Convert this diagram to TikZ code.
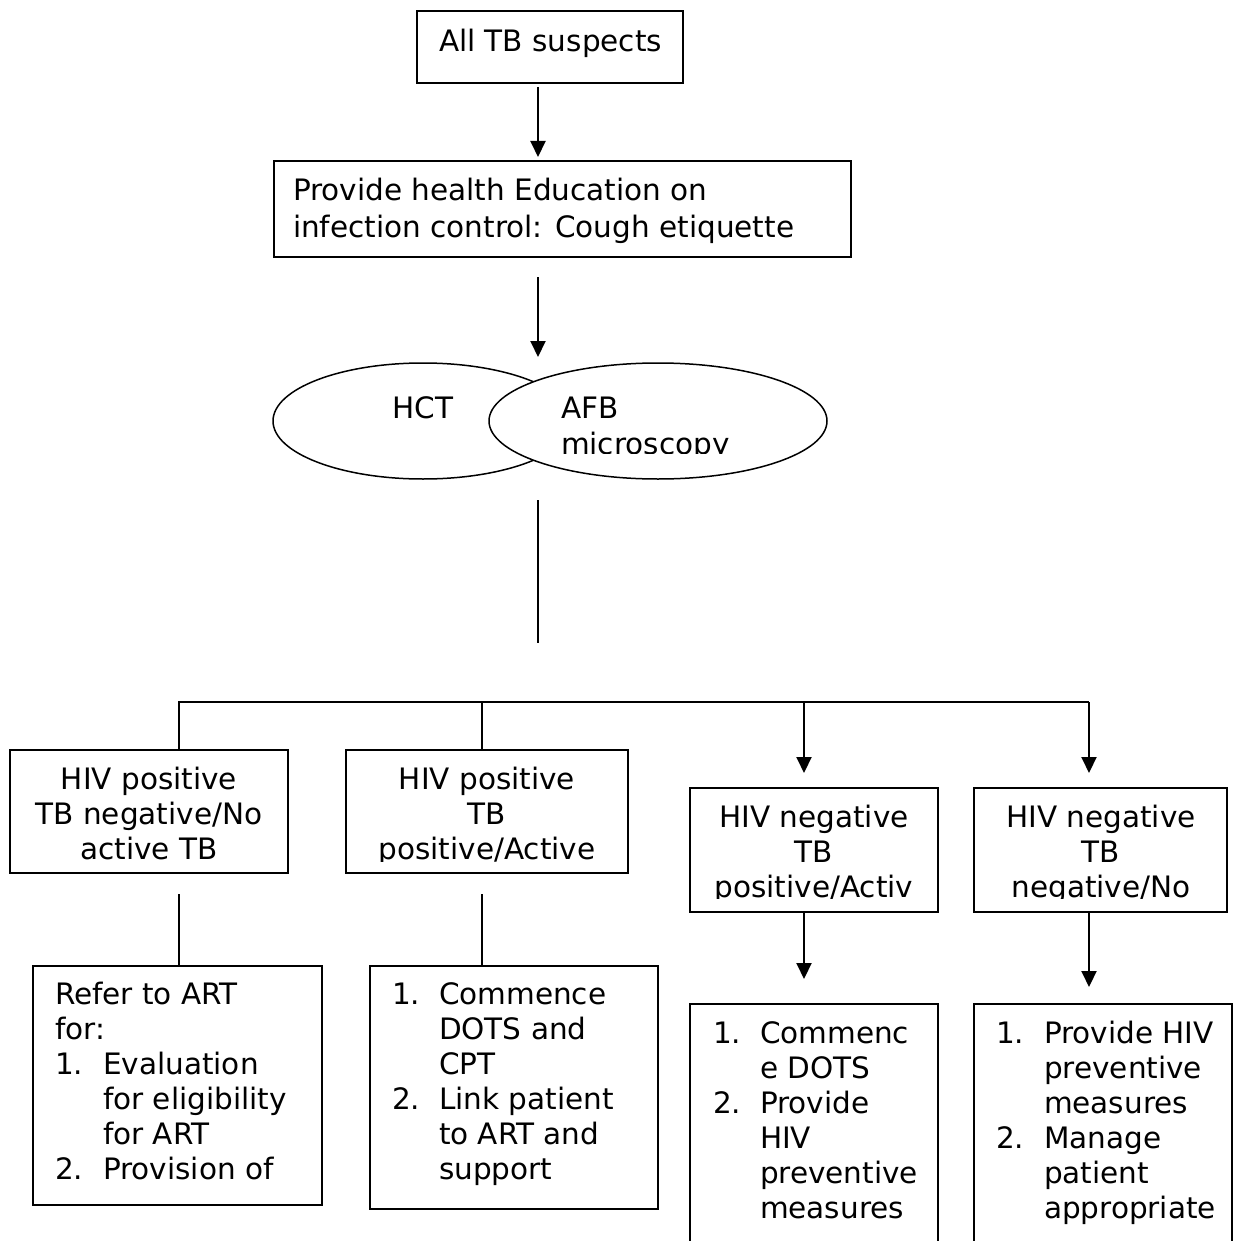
\documentclass[tikz,border=0pt]{standalone}
\usepackage{fontspec}
\setmainfont{DejaVu Sans}
\usetikzlibrary{arrows.meta,shapes.geometric}
\tikzset{
  boxs/.style={draw, line width=1.7pt, inner sep=0pt, outer sep=0pt, anchor=north west},
  openbox/.style={inner sep=0pt, outer sep=0pt, anchor=north west},
  ell/.style={ellipse, draw, line width=1.5pt, inner sep=0pt, outer sep=0pt, fill=white},
  conn/.style={line width=2pt},
  arr/.style={line width=2pt, -{Triangle[length=16pt,width=15pt]}},
  tx/.style={font=\fontsize{29.5}{35}\selectfont, inner sep=0pt, outer sep=0pt, anchor=base},
  txl/.style={tx, anchor=base west}
}
\begin{document}
\begin{tikzpicture}[x=1pt,y=-1pt]
\useasboundingbox (0,0) rectangle (1234,1241);
% boxes
\node[boxs, minimum width=266pt, minimum height=72pt] (b1) at (417,11) {};
\node[boxs, minimum width=577pt, minimum height=96pt] (b2) at (274,161) {};
\node[ell, minimum width=300pt, minimum height=116pt] (hct) at (423,421) {};
\node[ell, minimum width=338pt, minimum height=116pt] (afb) at (658,421) {};
\node[boxs, minimum width=278pt, minimum height=123pt] (A) at (10,750) {};
\node[boxs, minimum width=282pt, minimum height=123pt] (B) at (346,750) {};
\node[boxs, minimum width=248pt, minimum height=124pt] (E) at (690,788) {};
\node[boxs, minimum width=253pt, minimum height=124pt] (F) at (974,788) {};
\node[boxs, minimum width=289pt, minimum height=239pt] (C) at (33,966) {};
\node[boxs, minimum width=288pt, minimum height=243pt] (D) at (370,966) {};
\node[openbox, minimum width=248pt, minimum height=237pt] (G) at (690,1004) {};
\node[openbox, minimum width=258pt, minimum height=237pt] (H) at (974,1004) {};
\draw[line width=1.7pt] (G.south west) |- (G.north east) -- (G.south east);
\draw[line width=1.7pt] (H.south west) |- (H.north east) -- (H.south east);
% helper coordinates
\coordinate (xa) at (538,0);
\coordinate (bus) at (0,702);
\coordinate (xA) at (179,0);
\coordinate (xB) at (482,0);
\coordinate (xE) at (804,0);
\coordinate (xF) at (1089,0);
\coordinate (jend) at (538,643);
% connectors
\draw[arr, shorten <=4pt, shorten >=4pt] (b1.south -| xa) -- (b2.north -| xa);
\draw[arr, shorten <=20pt, shorten >=6pt] (b2.south -| xa) -- (hct.north -| xa);
\draw[conn, shorten <=21pt] (hct.south -| xa) -- (jend);
\draw[conn] (A.north -| xA) |- (bus -| xF);
\draw[conn] (B.north -| xB) -- (bus -| xB);
\draw[arr, shorten >=15pt] (bus -| xE) -- (E.north -| xE);
\draw[arr, shorten >=15pt] (bus -| xF) -- (F.north -| xF);
\draw[conn, shorten <=21pt] (A.south -| xA) -- (C.north -| xA);
\draw[conn, shorten <=21pt] (B.south -| xB) -- (D.north -| xB);
\draw[arr, shorten >=25pt] (E.south -| xE) -- (G.north -| xE);
\draw[arr, shorten >=17pt] (F.south -| xF) -- (H.north -| xF);
% texts
\node[txl] (t1) at (439,52) {All TB suspects};
\node[txl] (t2a) at (293,201) {Provide health Education on};
\node[txl] (t2b) at (293,237) {infection control: Cough etiquette};
\node[tx] (thct) at (423,418) {HCT};
\node[txl] (tafb) at (561,418) {AFB};
\begin{scope}
\clip (540,425) rectangle (820,453);
\node[txl] (tmic) at (561,454) {microscopy};
\end{scope}
% box A
\node[tx] (ta1) at (149,789) {HIV positive};
\node[tx] (ta2) at (149,824) {TB negative/No};
\node[tx] (ta3) at (149,859) {active TB};
% box B
\node[tx] (tb1) at (487,789) {HIV positive};
\node[tx] (tb2) at (487,824) {TB};
\begin{scope}
\clip (350,830) rectangle (625,861);
\node[tx] (tb3) at (487,859) {positive/Active};
\end{scope}
% box E
\node[tx] (te1) at (814,827) {HIV negative};
\node[tx] (te2) at (814,862) {TB};
\begin{scope}
\clip (692,868) rectangle (936,898);
\node[tx] (te3) at (814,897) {positive/Activ};
\end{scope}
% box F
\node[tx] (tf1) at (1101,827) {HIV negative};
\node[tx] (tf2) at (1101,862) {TB};
\begin{scope}
\clip (976,868) rectangle (1225,898);
\node[tx] (tf3) at (1101,897) {negative/No};
\end{scope}
% box C
\node[txl] (tc1) at (55,1004) {Refer to ART};
\node[txl] (tc2) at (55,1039) {for:};
\node[txl] (tc3n) at (55,1074) {1.};
\node[txl] (tc3) at (103,1074) {Evaluation};
\node[txl] (tc4) at (103,1109) {for eligibility};
\node[txl] (tc5) at (103,1144) {for ART};
\node[txl] (tc6n) at (55,1179) {2.};
\node[txl] (tc6) at (103,1179) {Provision of};
% box D
\node[txl] (td1n) at (392,1004) {1.};
\node[txl] (td1) at (439,1004) {Commence};
\node[txl] (td2) at (439,1039) {DOTS and};
\node[txl] (td3) at (439,1074) {CPT};
\node[txl] (td4n) at (392,1109) {2.};
\node[txl] (td4) at (439,1109) {Link patient};
\node[txl] (td5) at (439,1144) {to ART and};
\node[txl] (td6) at (439,1179) {support};
% box G
\node[txl] (tg1n) at (713,1043) {1.};
\node[txl] (tg1) at (760,1043) {Commenc};
\node[txl] (tg2) at (760,1078) {e DOTS};
\node[txl] (tg3n) at (713,1113) {2.};
\node[txl] (tg3) at (760,1113) {Provide};
\node[txl] (tg4) at (760,1148) {HIV};
\node[txl] (tg5) at (760,1183) {preventive};
\node[txl] (tg6) at (760,1218) {measures};
% box H
\node[txl] (th1n) at (996,1043) {1.};
\node[txl] (th1) at (1044,1043) {Provide HIV};
\node[txl] (th2) at (1044,1078) {preventive};
\node[txl] (th3) at (1044,1113) {measures};
\node[txl] (th4n) at (996,1148) {2.};
\node[txl] (th4) at (1044,1148) {Manage};
\node[txl] (th5) at (1044,1183) {patient};
\node[txl] (th6) at (1044,1218) {appropriate};
\end{tikzpicture}
\end{document}
